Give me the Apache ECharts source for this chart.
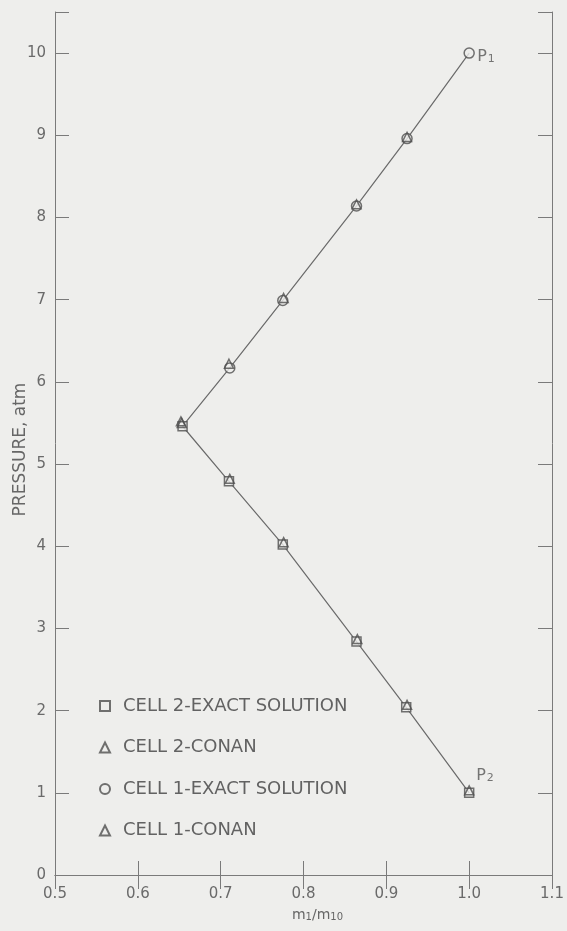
<!DOCTYPE html>
<html>
<head>
<meta charset="utf-8">
<script src="https://cdn.jsdelivr.net/npm/echarts@6/dist/echarts.min.js"></script>
<style>
  html, body { margin: 0; padding: 0; background: #eeeeec; }
  #chart { width: 567px; height: 931px; }
</style>
</head>
<body>
<div id="chart"></div>
<script>
// Mass ratio m1/m10 (x) against pressure in atm (y)
const cell2Exact = [[1.0, 1.0], [0.924, 2.04], [0.864, 2.84], [0.775, 4.02], [0.710, 4.79], [0.654, 5.46]];
const cell2Conan = [[1.0, 1.03], [0.925, 2.07], [0.865, 2.87], [0.776, 4.05], [0.711, 4.82], [0.653, 5.50]];
const cell1Exact = [[1.0, 10.0], [0.925, 8.96], [0.864, 8.14], [0.775, 6.99], [0.711, 6.17]];
const cell1Conan = [[0.925, 8.98], [0.864, 8.16], [0.776, 7.02], [0.710, 6.22], [0.652, 5.52]];

const legendNames = ['CELL 2-EXACT SOLUTION', 'CELL 2-CONAN', 'CELL 1-EXACT SOLUTION', 'CELL 1-CONAN'];
const xTicks = { min: 0.5, max: 1.1, step: 0.1 };
const yTicks = { min: 0, max: 10.5, step: 1 };

// Exact-solution path: from P1 down to the minimum, then on to P2
const exactPath = cell1Exact.concat(cell2Exact.slice().reverse());

const ink = '#4f4f4f';
const axisInk = '#7a7a7a';
const bg = '#eeeeec';
const font = 'DejaVu Sans';

const chart = echarts.init(document.getElementById('chart'), null, { renderer: 'canvas' });

const subRich = {
  m: { fontFamily: font, fontSize: 14, color: '#666', verticalAlign: 'bottom', lineHeight: 16 },
  s: { fontFamily: font, fontSize: 10, color: '#666', verticalAlign: 'bottom', padding: [7, 0, 0, 0], lineHeight: 12 }
};

const tagRich = {
  p: { fontFamily: font, fontSize: 16, color: '#555', verticalAlign: 'bottom', lineHeight: 18 },
  s: { fontFamily: font, fontSize: 11, color: '#555', verticalAlign: 'bottom', padding: [10, 0, 0, 1], lineHeight: 12 }
};

const markerStyle = { color: bg, borderColor: ink, borderWidth: 1.5 };

const commonAxis = {
  axisLine: { show: true, lineStyle: { color: axisInk, width: 1 } },
  axisTick: { show: true, inside: true, length: 14, lineStyle: { color: axisInk, width: 1 } },
  splitLine: { show: false }
};

chart.setOption({
  backgroundColor: bg,
  animation: false,
  grid: { left: 55, right: 15, top: 12, bottom: 56, containLabel: false, outerBoundsMode: 'none' },
  legend: {
    data: legendNames,
    orient: 'vertical',
    left: 94,
    top: 692,
    itemWidth: 10,
    itemHeight: 10,
    itemGap: 23.5,
    textStyle: { fontFamily: font, fontSize: 18, color: '#626262', padding: [0, 0, 0, 8], lineHeight: 18 }
  },
  xAxis: [
    Object.assign({}, commonAxis, {
      type: 'value', position: 'bottom',
      min: xTicks.min, max: xTicks.max, interval: xTicks.step,
      axisLabel: { margin: 12, fontFamily: font, fontSize: 15, color: '#6a6a6a',
        formatter: v => v.toFixed(1) },
      name: '{m|m}{s|1}{m|/m}{s|10}',
      nameLocation: 'middle',
      nameGap: 31,
      nameMoveOverlap: false,
      nameTextStyle: { rich: subRich, padding: [0, 0, 0, 28] }
    }),
    Object.assign({}, commonAxis, {
      type: 'value', position: 'top',
      min: xTicks.min, max: xTicks.max, interval: xTicks.step,
      axisLabel: { show: false }
    })
  ],
  yAxis: [
    Object.assign({}, commonAxis, {
      type: 'value', position: 'left',
      min: yTicks.min, max: yTicks.max, interval: yTicks.step,
      axisLabel: { margin: 9, fontFamily: font, fontSize: 15, color: '#6a6a6a',
        formatter: v => (Number.isInteger(v) ? String(v) : '') },
      name: 'PRESSURE, atm',
      nameLocation: 'middle',
      nameGap: 26,
      nameMoveOverlap: false,
      nameTextStyle: { fontFamily: font, fontSize: 17, color: '#666', padding: [0, 12, 0, 0] }
    }),
    Object.assign({}, commonAxis, {
      type: 'value', position: 'right',
      min: yTicks.min, max: yTicks.max, interval: yTicks.step,
      axisLabel: { show: false }
    })
  ],
  series: [
    {
      name: 'exact path',
      type: 'line',
      data: exactPath,
      showSymbol: false,
      symbol: 'none',
      lineStyle: { color: '#6a6a6a', width: 1.2 },
      z: 1,
      silent: true
    },
    {
      name: legendNames[0], type: 'scatter', symbol: 'rect', symbolSize: 9,
      data: cell2Exact, itemStyle: markerStyle, z: 3
    },
    {
      name: legendNames[1], type: 'scatter', symbol: 'triangle', symbolSize: 9,
      data: cell2Conan, itemStyle: Object.assign({}, markerStyle, { color: 'rgba(0,0,0,0)' }), z: 4
    },
    {
      name: legendNames[2], type: 'scatter', symbol: 'circle', symbolSize: 10,
      data: cell1Exact, itemStyle: markerStyle, z: 3
    },
    {
      name: legendNames[3], type: 'scatter', symbol: 'triangle', symbolSize: 9,
      data: cell1Conan, itemStyle: Object.assign({}, markerStyle, { color: 'rgba(0,0,0,0)' }), z: 4
    },
    {
      // end-point tags P1 and P2
      name: 'ends', type: 'scatter', symbolSize: 0, silent: true,
      data: [
        { value: cell1Exact[0], label: { show: true, position: 'right', distance: 8, offset: [0, 3], formatter: '{p|P}{s|1}', rich: tagRich } },
        { value: cell2Exact[0], label: { show: true, position: 'right', distance: 7, offset: [0, -18], formatter: '{p|P}{s|2}', rich: tagRich } }
      ]
    }
  ]
});
</script>
</body>
</html>
